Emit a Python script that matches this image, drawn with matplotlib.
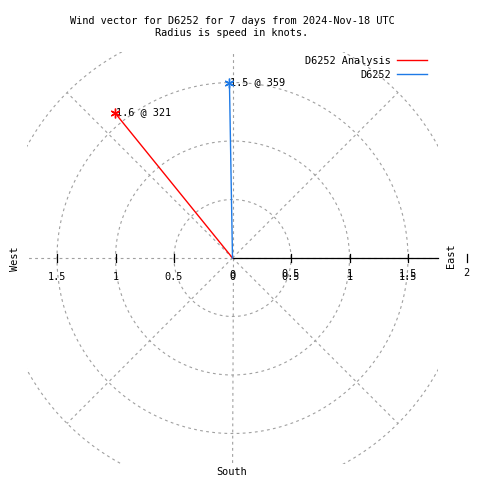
import numpy as np
import matplotlib
matplotlib.use('Agg')
import matplotlib.pyplot as plt
from matplotlib.patches import Rectangle

# Wind vectors: speed in knots, direction in compass degrees
series_names = ['D6252 Analysis', 'D6252']
speeds = [1.6, 1.5]
directions = [321, 359]
series_colors = ['#ff0000', '#1e7ae6']

# Polar grid / radial axis
grid_radii = [0.5, 1.0, 1.5, 2.0]
spoke_angles = [0, 45, 90, 135, 180, 225, 270, 315]
tick_values = [0.5, 1.0, 1.5, 2.0]
tick_labels = ['0.5', '1', '1.5', '2']
r_plot = 1.76  # half-width of the plot square (knots)

title = 'Wind vector for D6252 for 7 days from 2024-Nov-18 UTC\nRadius is speed in knots.'

plt.rcParams['font.family'] = ['DejaVu Sans Mono']
FS = 7.4
W = H = 480
DPI = 100
scale = 117.0          # pixels per knot
cx, cy = 232.5, 258.0  # centre in image pixels

fig = plt.figure(figsize=(W / DPI, H / DPI), dpi=DPI)
ax = fig.add_axes([0, 0, 1, 1])
ax.set_xlim(-cx / scale, (W - cx) / scale)
ax.set_ylim(-(H - cy) / scale, cy / scale)
ax.axis('off')

clip = Rectangle((-r_plot, -r_plot), 2 * r_plot, 2 * r_plot, transform=ax.transData)
grid_kw = dict(color='#a0a0a0', lw=0.8, dashes=(2.5, 3), zorder=1)

# circles
t = np.linspace(0, 2 * np.pi, 721)
for r in grid_radii:
    ln, = ax.plot(r * np.cos(t), r * np.sin(t), **grid_kw)
    ln.set_clip_path(clip)

# spokes
for a in spoke_angles:
    rad = np.deg2rad(a)
    ln, = ax.plot([0, 2 * np.cos(rad)], [0, 2 * np.sin(rad)], **grid_kw)
    ln.set_clip_path(clip)

# radial axis (solid, to the east)
ax.plot([0, r_plot], [0, 0], color='black', lw=0.9, zorder=2)
tk = 4 / scale
for v in tick_values:
    for sgn in (1, -1):
        if v == 2.0 and sgn < 0:
            continue
        ax.plot([sgn * v, sgn * v], [-tk, tk], color='black', lw=0.9,
                zorder=2, clip_on=False)

# tick labels (gnuplot draws the east-side labels twice, slightly shifted)
ylab = -19 / scale
ax.text(0, ylab, '0', ha='center', va='center', fontsize=FS)
ax.text(0, ylab + 2.5 / scale, '0', ha='center', va='center', fontsize=FS)
for v, lab in zip(tick_values, tick_labels):
    if v < 2.0:
        ax.text(-v, ylab, lab, ha='center', va='center', fontsize=FS)
        ax.text(v, ylab, lab, ha='center', va='center', fontsize=FS)
        ax.text(v, ylab + 3 / scale, lab, ha='center', va='center', fontsize=FS)
    else:
        ax.text(v, -15 / scale, lab, ha='center', va='center', fontsize=FS)

# wind vectors
handles = []
for name, spd, d, col in zip(series_names, speeds, directions, series_colors):
    th = np.deg2rad(d)
    x, y = spd * np.sin(th), spd * np.cos(th)
    h, = ax.plot([0, x], [0, y], color=col, lw=1.0, zorder=3, label=name)
    ax.plot([x], [y], marker=(6, 2, 0), ms=7, mew=1.0, color=col, zorder=4)
    ax.text(x + 1 / scale, y, f'{spd:.1f} @ {d}', ha='left', va='center', fontsize=FS)
    handles.append(h)

# compass labels
def fpx(x, y):
    return x / W, 1 - y / H

fig.text(*fpx(232, 27), title, ha='center', va='center', fontsize=FS, linespacing=1.2)
fig.text(*fpx(15, 259), 'West', rotation=90, ha='center', va='center', fontsize=FS)
fig.text(*fpx(451, 256), 'East', rotation=90, ha='center', va='center', fontsize=FS)
fig.text(*fpx(232, 472), 'South', ha='center', va='center', fontsize=FS)

leg = ax.legend(handles=handles, loc='upper right', bbox_to_anchor=fpx(427, 56),
                bbox_transform=fig.transFigure, frameon=False, markerfirst=False,
                fontsize=FS, handlelength=2.9, handletextpad=0.6, labelspacing=0.35,
                borderpad=0, borderaxespad=0)

fig.savefig('out.png', dpi=DPI)
